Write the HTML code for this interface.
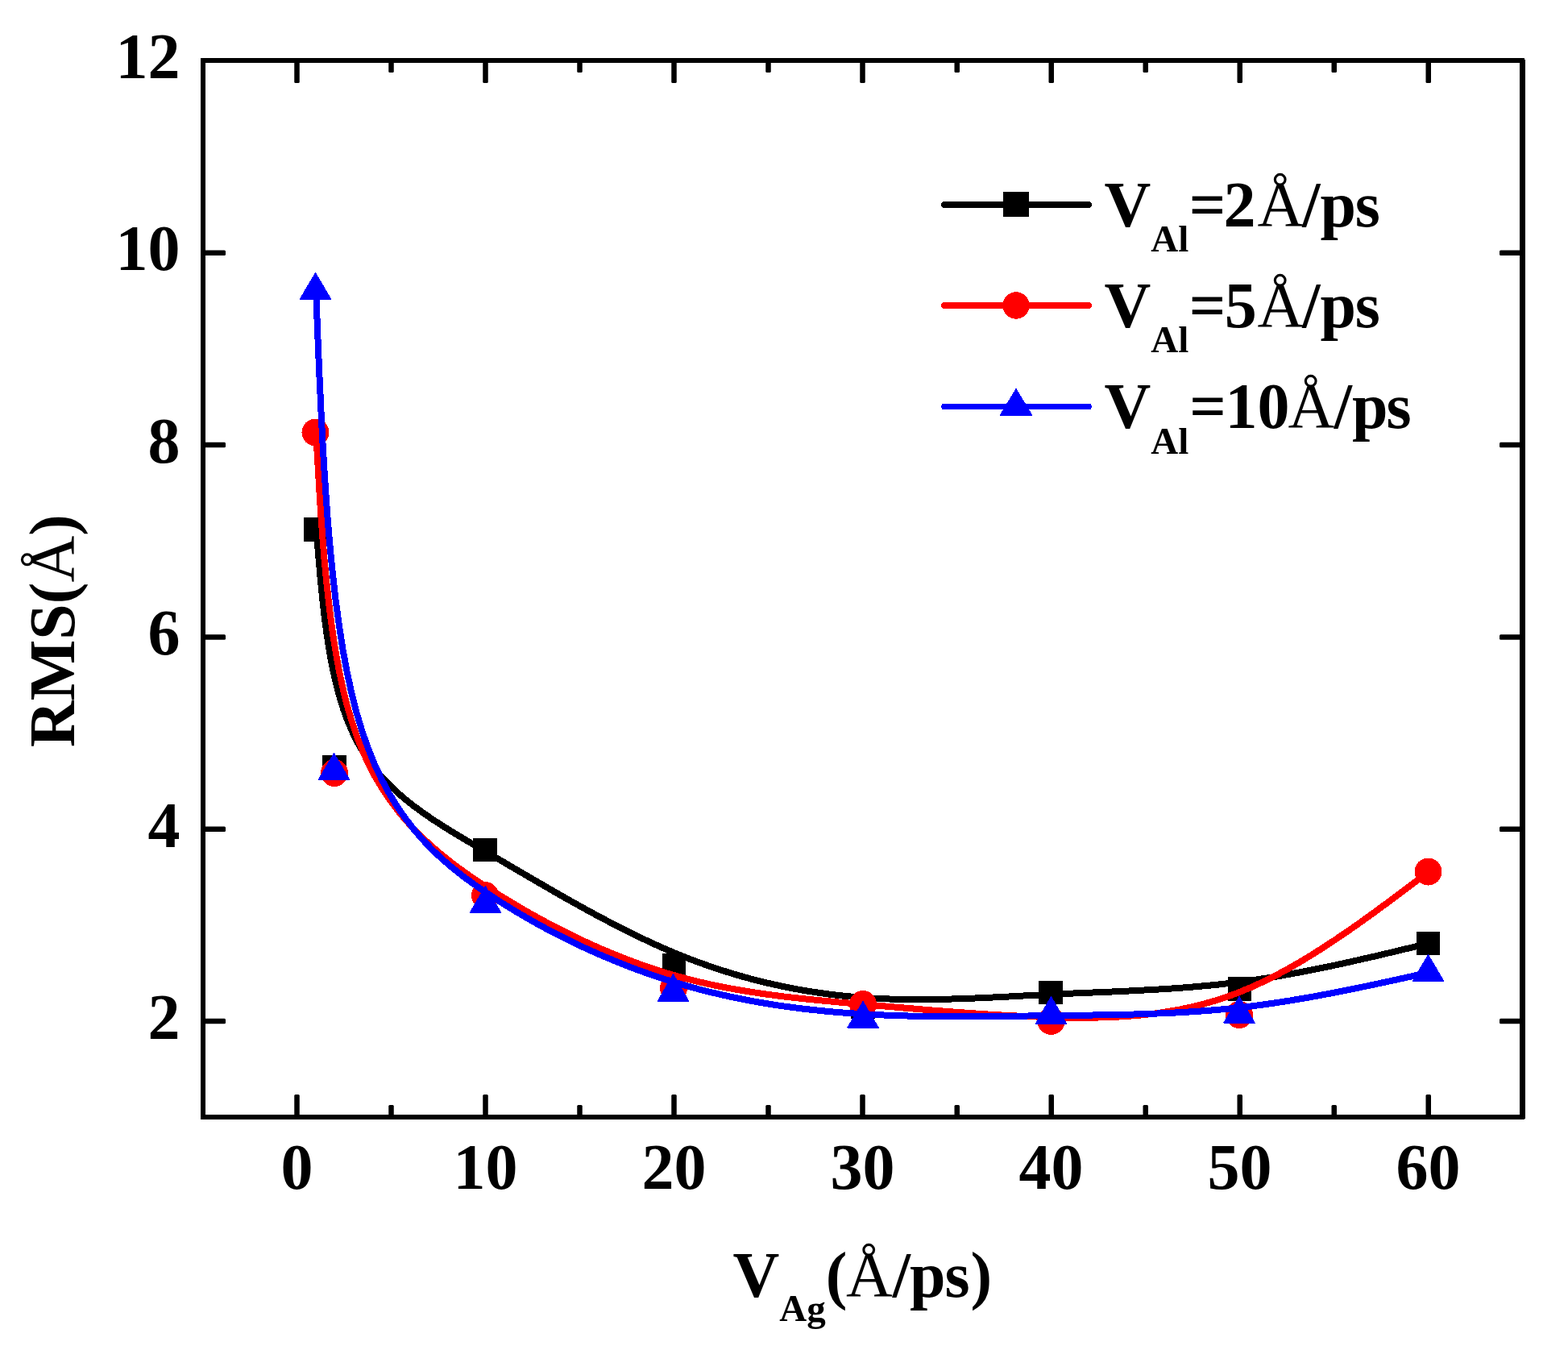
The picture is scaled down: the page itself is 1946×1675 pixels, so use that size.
<!DOCTYPE html>
<html lang="en"><head><meta charset="utf-8"><title>RMS vs V_Ag</title>
<style>html,body{margin:0;padding:0;background:#fff}body{width:1946px;height:1675px;overflow:hidden}svg{display:block}</style>
</head><body>
<svg width="1946" height="1675" viewBox="0 0 1946 1675">
<rect width="1946" height="1675" fill="#fff"/>
<g fill="#000" stroke="none" shape-rendering="crispEdges">
<path d="M392.7,657.0 L394.1,675.4 L395.6,693.8 L397.2,712.1 L398.9,730.2 L400.7,748.2 L402.8,765.9 L405.1,783.4 L407.6,800.5 L410.5,817.2 L413.7,833.5 L417.4,849.4 L421.5,864.7 L426.0,879.5 L431.1,893.6 L436.8,907.1 L443.0,919.9 L449.9,932.0 L457.4,943.3 L465.5,954.1 L474.1,964.2 L483.3,973.8 L492.9,983.0 L503.0,991.7 L513.6,1000.1 L524.6,1008.2 L535.9,1016.0 L547.7,1023.7 L559.7,1031.2 L572.1,1038.7 L584.7,1046.1 L597.5,1053.6 L610.6,1061.2 L623.9,1069.0 L637.3,1076.9 L650.9,1084.8 L664.7,1092.9 L678.6,1100.9 L692.6,1109.0 L706.7,1117.0 L720.9,1124.9 L735.3,1132.8 L749.7,1140.5 L764.2,1148.1 L778.7,1155.5 L793.3,1162.6 L807.9,1169.5 L822.5,1176.1 L837.2,1182.3 L851.9,1188.3 L866.5,1193.8 L881.2,1199.0 L895.8,1203.9 L910.5,1208.5 L925.1,1212.7 L939.8,1216.6 L954.4,1220.1 L969.1,1223.4 L983.7,1226.4 L998.3,1229.0 L1013.0,1231.3 L1027.6,1233.4 L1042.2,1235.2 L1056.8,1236.6 L1071.5,1237.8 L1086.1,1238.8 L1100.7,1239.4 L1115.3,1239.9 L1129.8,1240.1 L1144.4,1240.2 L1159.0,1240.0 L1173.6,1239.7 L1188.2,1239.3 L1202.8,1238.8 L1217.4,1238.2 L1232.0,1237.5 L1246.6,1236.8 L1261.1,1236.0 L1275.7,1235.2 L1290.3,1234.5 L1305.0,1233.8 L1319.6,1233.1 L1334.2,1232.4 L1348.8,1231.8 L1363.4,1231.2 L1378.1,1230.6 L1392.7,1229.9 L1407.3,1229.2 L1422.0,1228.4 L1436.6,1227.6 L1451.3,1226.7 L1465.9,1225.7 L1480.5,1224.5 L1495.2,1223.2 L1509.8,1221.8 L1524.5,1220.1 L1539.1,1218.3 L1553.8,1216.3 L1568.4,1214.1 L1583.0,1211.8 L1597.7,1209.2 L1612.3,1206.5 L1626.9,1203.7 L1641.6,1200.7 L1656.2,1197.7 L1670.8,1194.5 L1685.4,1191.2 L1700.1,1187.9 L1714.7,1184.5 L1729.3,1181.0 L1743.9,1177.5 L1758.6,1174.0 L1773.2,1170.5" fill="none" stroke="#000" stroke-width="8" stroke-linejoin="round" stroke-linecap="butt"/>
<rect x="377.25" y="642.25" width="29.5" height="29.5"/>
<rect x="400.25" y="937.25" width="29.5" height="29.5"/>
<rect x="587.25" y="1039.75" width="29.5" height="29.5"/>
<rect x="821.75" y="1182.75" width="29.5" height="29.5"/>
<rect x="1056.25" y="1234.75" width="29.5" height="29.5"/>
<rect x="1289.25" y="1216.75" width="29.5" height="29.5"/>
<rect x="1523.75" y="1212.25" width="29.5" height="29.5"/>
<rect x="1757.75" y="1155.75" width="29.5" height="29.5"/>
</g>
<g fill="#f00" stroke="none" shape-rendering="crispEdges">
<path d="M392.2,536.5 L393.7,562.9 L395.2,589.2 L396.8,615.4 L398.5,641.4 L400.4,667.2 L402.4,692.6 L404.8,717.6 L407.4,742.1 L410.3,766.1 L413.5,789.6 L417.2,812.3 L421.3,834.4 L425.9,855.6 L431.0,876.0 L436.7,895.4 L442.9,913.9 L449.8,931.4 L457.3,947.8 L465.4,963.3 L474.1,977.9 L483.2,991.7 L492.9,1004.7 L503.0,1017.0 L513.6,1028.6 L524.6,1039.6 L535.9,1050.1 L547.6,1060.1 L559.7,1069.7 L572.0,1078.9 L584.6,1087.8 L597.5,1096.4 L610.5,1104.8 L623.8,1113.1 L637.2,1121.2 L650.8,1129.2 L664.5,1136.9 L678.4,1144.5 L692.4,1151.8 L706.5,1158.9 L720.7,1165.8 L735.0,1172.4 L749.4,1178.7 L763.9,1184.7 L778.4,1190.5 L793.0,1195.9 L807.6,1201.0 L822.2,1205.8 L836.9,1210.2 L851.5,1214.2 L866.2,1217.9 L880.9,1221.3 L895.5,1224.3 L910.2,1227.1 L924.9,1229.6 L939.5,1231.9 L954.2,1234.0 L968.9,1236.0 L983.5,1237.7 L998.2,1239.3 L1012.8,1240.8 L1027.5,1242.2 L1042.2,1243.6 L1056.8,1244.9 L1071.5,1246.2 L1086.1,1247.4 L1100.7,1248.7 L1115.3,1250.0 L1130.0,1251.2 L1144.6,1252.5 L1159.2,1253.7 L1173.8,1254.8 L1188.4,1255.9 L1203.0,1257.0 L1217.6,1258.0 L1232.2,1258.9 L1246.8,1259.7 L1261.4,1260.5 L1276.0,1261.1 L1290.6,1261.7 L1305.2,1262.2 L1319.8,1262.5 L1334.4,1262.7 L1349.0,1262.7 L1363.6,1262.5 L1378.2,1262.1 L1392.8,1261.3 L1407.4,1260.3 L1422.0,1258.9 L1436.6,1257.1 L1451.2,1254.8 L1465.8,1252.2 L1480.4,1249.0 L1495.0,1245.3 L1509.6,1241.1 L1524.2,1236.2 L1538.9,1230.8 L1553.5,1224.6 L1568.1,1217.9 L1582.8,1210.6 L1597.4,1202.7 L1612.0,1194.4 L1626.7,1185.5 L1641.3,1176.3 L1656.0,1166.7 L1670.6,1156.8 L1685.3,1146.6 L1699.9,1136.1 L1714.6,1125.4 L1729.2,1114.6 L1743.9,1103.6 L1758.5,1092.6 L1773.2,1081.5" fill="none" stroke="#f00" stroke-width="8" stroke-linejoin="round" stroke-linecap="butt"/>
<circle cx="391.5" cy="536.5" r="17.0"/>
<circle cx="415.0" cy="959.0" r="17.0"/>
<circle cx="602.0" cy="1111.0" r="17.0"/>
<circle cx="836.0" cy="1226.0" r="17.0"/>
<circle cx="1071.0" cy="1246.0" r="17.0"/>
<circle cx="1304.5" cy="1267.0" r="17.0"/>
<circle cx="1538.0" cy="1259.0" r="17.0"/>
<circle cx="1772.5" cy="1081.5" r="17.0"/>
</g>
<g fill="#00f" stroke="none" shape-rendering="crispEdges">
<path d="M392.2,360.7 L393.6,397.9 L395.1,435.0 L396.7,471.9 L398.4,508.5 L400.2,544.7 L402.3,580.4 L404.6,615.4 L407.1,649.7 L410.0,683.1 L413.3,715.6 L416.9,747.1 L421.1,777.4 L425.6,806.4 L430.7,834.0 L436.4,860.2 L442.7,884.8 L449.6,907.8 L457.1,929.2 L465.2,949.0 L473.9,967.5 L483.1,984.6 L492.8,1000.5 L503.0,1015.3 L513.6,1029.0 L524.6,1041.8 L536.0,1053.8 L547.7,1064.9 L559.8,1075.4 L572.2,1085.3 L584.8,1094.7 L597.6,1103.7 L610.7,1112.4 L623.9,1120.9 L637.4,1129.2 L650.9,1137.2 L664.6,1145.0 L678.5,1152.6 L692.4,1159.9 L706.5,1166.9 L720.7,1173.8 L735.0,1180.3 L749.3,1186.6 L763.8,1192.6 L778.2,1198.4 L792.8,1203.9 L807.4,1209.1 L822.0,1214.0 L836.6,1218.6 L851.3,1222.9 L865.9,1227.0 L880.6,1230.7 L895.2,1234.2 L909.9,1237.4 L924.6,1240.4 L939.3,1243.1 L954.0,1245.6 L968.6,1247.9 L983.3,1249.9 L998.0,1251.8 L1012.7,1253.4 L1027.4,1254.9 L1042.0,1256.2 L1056.7,1257.3 L1071.4,1258.2 L1086.0,1259.0 L1100.7,1259.7 L1115.3,1260.2 L1129.9,1260.6 L1144.6,1260.9 L1159.2,1261.1 L1173.8,1261.3 L1188.4,1261.3 L1203.0,1261.3 L1217.6,1261.2 L1232.2,1261.1 L1246.8,1260.9 L1261.4,1260.7 L1276.0,1260.5 L1290.6,1260.3 L1305.2,1260.1 L1319.8,1259.9 L1334.4,1259.8 L1349.0,1259.6 L1363.6,1259.4 L1378.2,1259.1 L1392.8,1258.8 L1407.4,1258.5 L1422.0,1258.0 L1436.6,1257.5 L1451.2,1256.9 L1465.8,1256.1 L1480.4,1255.2 L1495.0,1254.2 L1509.6,1253.0 L1524.2,1251.7 L1538.9,1250.1 L1553.5,1248.4 L1568.1,1246.4 L1582.8,1244.3 L1597.4,1242.1 L1612.0,1239.6 L1626.7,1237.1 L1641.3,1234.4 L1656.0,1231.6 L1670.6,1228.7 L1685.3,1225.7 L1699.9,1222.7 L1714.6,1219.5 L1729.2,1216.4 L1743.9,1213.1 L1758.5,1209.9 L1773.2,1206.7" fill="none" stroke="#00f" stroke-width="8" stroke-linejoin="round" stroke-linecap="butt"/>
<polygon points="391.5,337.5 411.0,370.5 411.0,372.0 372.0,372.0 372.0,370.5"/>
<polygon points="414.5,933.5 434.0,966.5 434.0,968.0 395.0,968.0 395.0,966.5"/>
<polygon points="602.5,1098.5 622.0,1131.5 622.0,1133.0 583.0,1133.0 583.0,1131.5"/>
<polygon points="835.5,1207.5 855.0,1241.5 855.0,1243.0 816.0,1243.0 816.0,1241.5"/>
<polygon points="1071.0,1241.5 1090.5,1274.5 1090.5,1276.0 1051.5,1276.0 1051.5,1274.5"/>
<polygon points="1304.5,1235.5 1324.0,1269.5 1324.0,1271.0 1285.0,1271.0 1285.0,1269.5"/>
<polygon points="1538.0,1235.5 1557.5,1268.5 1557.5,1270.0 1518.5,1270.0 1518.5,1268.5"/>
<polygon points="1772.5,1183.5 1792.0,1216.5 1792.0,1218.0 1753.0,1218.0 1753.0,1216.5"/>
</g>
<g fill="#000">
<rect x="249" y="72" width="1643" height="6"/>
<rect x="249" y="1383" width="1643" height="6"/>
<rect x="249" y="72" width="6" height="1317"/>
<rect x="1886" y="74" width="7" height="1314"/>
<rect x="365.25" y="1358" width="6.5" height="27" rx="1.5"/>
<rect x="365.25" y="76" width="6.5" height="27" rx="1.5"/>
<rect x="482.25" y="1371" width="6.5" height="14" rx="1.5"/>
<rect x="482.25" y="76" width="6.5" height="14" rx="1.5"/>
<rect x="599.25" y="1358" width="6.5" height="27" rx="1.5"/>
<rect x="599.25" y="76" width="6.5" height="27" rx="1.5"/>
<rect x="716.25" y="1371" width="6.5" height="14" rx="1.5"/>
<rect x="716.25" y="76" width="6.5" height="14" rx="1.5"/>
<rect x="833.25" y="1358" width="6.5" height="27" rx="1.5"/>
<rect x="833.25" y="76" width="6.5" height="27" rx="1.5"/>
<rect x="950.25" y="1371" width="6.5" height="14" rx="1.5"/>
<rect x="950.25" y="76" width="6.5" height="14" rx="1.5"/>
<rect x="1067.25" y="1358" width="6.5" height="27" rx="1.5"/>
<rect x="1067.25" y="76" width="6.5" height="27" rx="1.5"/>
<rect x="1184.50" y="1371" width="6.5" height="14" rx="1.5"/>
<rect x="1184.50" y="76" width="6.5" height="14" rx="1.5"/>
<rect x="1301.50" y="1358" width="6.5" height="27" rx="1.5"/>
<rect x="1301.50" y="76" width="6.5" height="27" rx="1.5"/>
<rect x="1418.50" y="1371" width="6.5" height="14" rx="1.5"/>
<rect x="1418.50" y="76" width="6.5" height="14" rx="1.5"/>
<rect x="1535.50" y="1358" width="6.5" height="27" rx="1.5"/>
<rect x="1535.50" y="76" width="6.5" height="27" rx="1.5"/>
<rect x="1652.50" y="1371" width="6.5" height="14" rx="1.5"/>
<rect x="1652.50" y="76" width="6.5" height="14" rx="1.5"/>
<rect x="1769.50" y="1358" width="6.5" height="27" rx="1.5"/>
<rect x="1769.50" y="76" width="6.5" height="27" rx="1.5"/>
<rect x="253" y="1263.87" width="27" height="6.5" rx="1.5"/>
<rect x="1861" y="1263.87" width="27" height="6.5" rx="1.5"/>
<rect x="253" y="1025.51" width="27" height="6.5" rx="1.5"/>
<rect x="1861" y="1025.51" width="27" height="6.5" rx="1.5"/>
<rect x="253" y="787.15" width="27" height="6.5" rx="1.5"/>
<rect x="1861" y="787.15" width="27" height="6.5" rx="1.5"/>
<rect x="253" y="548.79" width="27" height="6.5" rx="1.5"/>
<rect x="1861" y="548.79" width="27" height="6.5" rx="1.5"/>
<rect x="253" y="310.43" width="27" height="6.5" rx="1.5"/>
<rect x="1861" y="310.43" width="27" height="6.5" rx="1.5"/>
</g>
<g font-family="'Liberation Serif', 'Times New Roman', serif" font-weight="bold" font-size="80px" fill="#000">
<text x="368.5" y="1475" text-anchor="middle">0</text>
<text x="602.5" y="1475" text-anchor="middle">10</text>
<text x="836.5" y="1475" text-anchor="middle">20</text>
<text x="1070.5" y="1475" text-anchor="middle">30</text>
<text x="1304.5" y="1475" text-anchor="middle">40</text>
<text x="1538.5" y="1475" text-anchor="middle">50</text>
<text x="1772.5" y="1475" text-anchor="middle">60</text>
<text x="223.5" y="1288.8" text-anchor="end">2</text>
<text x="223.5" y="1050.5" text-anchor="end">4</text>
<text x="223.5" y="812.1" text-anchor="end">6</text>
<text x="223.5" y="573.7" text-anchor="end">8</text>
<text x="223.5" y="335.4" text-anchor="end">10</text>
<text x="223.5" y="97.0" text-anchor="end">12</text>
<text x="909.5" y="1609">V<tspan font-size="47px" dy="29.5">Ag</tspan><tspan dy="-29.5">(</tspan><tspan font-weight="normal" dx="-1.5">Å</tspan><tspan dx="0 -1 -1 1">/ps)</tspan></text>
<text transform="translate(91.5,927) rotate(-90)">RMS(<tspan font-weight="normal">Å</tspan>)</text>
</g>
<g fill="#000" shape-rendering="crispEdges">
<line x1="1172" y1="254" x2="1351" y2="254" stroke="#000" stroke-width="7.6" stroke-linecap="round"/>
<rect x="1245" y="238" width="32" height="31"/>
</g>
<text font-family="'Liberation Serif', 'Times New Roman', serif" font-weight="bold" font-size="80px" fill="#000" x="1370.5" y="280.5">V<tspan font-size="47px" dy="31.5">Al</tspan><tspan dy="-31.5" dx="0.5 -3">=2</tspan><tspan font-weight="normal" dx="2">Å</tspan><tspan dx="-2 0 -1.2">/ps</tspan></text>
<g fill="#f00" shape-rendering="crispEdges">
<line x1="1172" y1="379" x2="1351" y2="379" stroke="#f00" stroke-width="7.6" stroke-linecap="round"/>
<circle cx="1261.0" cy="379.0" r="16.75"/>
</g>
<text font-family="'Liberation Serif', 'Times New Roman', serif" font-weight="bold" font-size="80px" fill="#000" x="1370.5" y="405.8">V<tspan font-size="47px" dy="31.5">Al</tspan><tspan dy="-31.5" dx="0.5 -1.7">=5</tspan><tspan font-weight="normal" dx="0.7">Å</tspan><tspan dx="-2 0 -1.2">/ps</tspan></text>
<g fill="#00f" shape-rendering="crispEdges">
<line x1="1172" y1="504.5" x2="1351" y2="504.5" stroke="#00f" stroke-width="7.6" stroke-linecap="round"/>
<polygon points="1261.0,481.5 1281.0,514.5 1281.0,516.0 1241.0,516.0 1241.0,514.5"/>
</g>
<text font-family="'Liberation Serif', 'Times New Roman', serif" font-weight="bold" font-size="80px" fill="#000" x="1370.5" y="531">V<tspan font-size="47px" dy="31.5">Al</tspan><tspan dy="-31.5" dx="1 -1.5 0">=10</tspan><tspan font-weight="normal" dx="-2">Å</tspan><tspan dx="-0.4 0 -1.9">/ps</tspan></text>
</svg>
</body></html>
